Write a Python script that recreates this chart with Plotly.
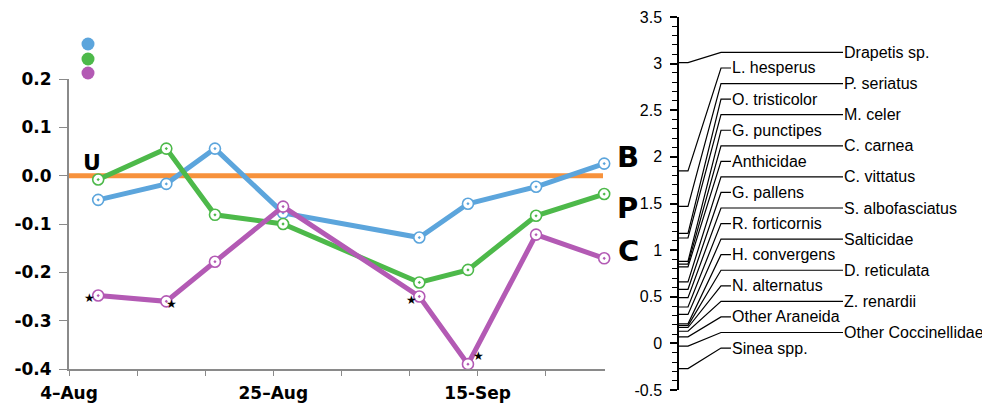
import plotly.graph_objects as go

# ---------------- data ----------------
dates = ["2023-08-07", "2023-08-14", "2023-08-19", "2023-08-26",
         "2023-09-09", "2023-09-14", "2023-09-21", "2023-09-28"]
blue_vals = [-0.050, -0.017, 0.056, -0.077, -0.128, -0.058, -0.023, 0.025]
green_vals = [-0.008, 0.056, -0.081, -0.100, -0.221, -0.195, -0.083, -0.038]
purple_vals = [-0.248, -0.260, -0.178, -0.064, -0.250, -0.390, -0.122, -0.171]
purple_signif = [True, True, False, False, True, True, False, False]

x_tickvals = ["2023-08-04", "2023-08-11", "2023-08-18", "2023-08-25",
              "2023-09-01", "2023-09-08", "2023-09-15", "2023-09-22"]
x_ticktext = ["4\u2013Aug", "", "", "25\u2013Aug", "", "", "15-Sep", ""]
y_tickvals = [0.2, 0.1, 0.0, -0.1, -0.2, -0.3, -0.4]
y_ticktext = ["0.2", "0.1", "0.0", "-0.1", "-0.2", "-0.3", "-0.4"]

species = ["Drapetis sp.", "L. hesperus", "P. seriatus", "O. tristicolor", "M. celer",
           "G. punctipes", "C. carnea", "Anthicidae", "C. vittatus", "G. pallens",
           "S. albofasciatus", "R. forticornis", "Salticidae", "H. convergens",
           "D. reticulata", "N. alternatus", "Z. renardii", "Other Araneida",
           "Other Coccinellidae", "Sinea spp."]
species_vals = [3.01, 1.85, 1.47, 1.18, 1.13, 0.88, 0.85, 0.82, 0.66, 0.58,
                0.49, 0.39, 0.31, 0.21, 0.19, 0.17, 0.13, 0.07, -0.03, -0.27]
y2_tickvals = [3.5, 3, 2.5, 2, 1.5, 1, 0.5, 0, -0.5]
y2_ticktext = ["3.5", "3", "2.5", "2", "1.5", "1", "0.5", "0", "-0.5"]

# ---------------- styling ----------------
OFF = 8  # page body margin
W, H = 990 - OFF, 404 - OFF
ML, MR, MT, MB = 69 - OFF, 0, 17 - OFF, 14
PW, PH = W - ML - MR, H - MT - MB


def px_x(p):
    return (p - OFF - ML) / PW


def px_y(p):
    return (H - MB - (p - OFF)) / PH


BLUE, GREEN, PURPLE, ORANGE = "#5ca5dc", "#4db94a", "#b35ab4", "#f7923c"
AX_GREY = "#8a8a8a"
BOLD_FONT = "DejaVu Sans"
SANS = "Liberation Sans, Arial, sans-serif"

fig = go.Figure()

for vals, col in [(blue_vals, BLUE), (green_vals, GREEN), (purple_vals, PURPLE)]:
    fig.add_trace(go.Scatter(
        x=dates, y=vals, mode="lines+markers", xaxis="x", yaxis="y",
        line=dict(color=col, width=5),
        marker=dict(symbol="circle-dot", size=11, color="white",
                    line=dict(color=col, width=1.6)),
        cliponaxis=False, showlegend=False, hoverinfo="skip"))

# zero reference line (U)
fig.add_shape(type="line", xref="paper", yref="y", x0=px_x(69), x1=px_x(603), y0=0, y1=0,
              line=dict(color=ORANGE, width=5), layer="below")

# significance stars on purple series
star_offsets = [(-9, -2), (5, -3), None, None, (-8, -3), (11, 8), None, None]
annotations = []
for d, v, s, off in zip(dates, purple_vals, purple_signif, star_offsets):
    if s:
        annotations.append(dict(x=d, y=v, xref="x", yref="y", text="\u2605",
                                showarrow=False, xshift=off[0], yshift=off[1],
                                font=dict(family=BOLD_FONT, size=12, color="black")))

# legend dots
for cy, col in [(44, BLUE), (59, GREEN), (73, PURPLE)]:
    r = 6.5
    fig.add_shape(type="circle", xref="paper", yref="paper",
                  x0=px_x(88 - r), x1=px_x(88 + r), y0=px_y(cy + r), y1=px_y(cy - r),
                  fillcolor=col, line=dict(width=0))

# big letters
annotations.append(dict(x=px_x(81), y=px_y(162), xref="paper", yref="paper", text="U",
                        showarrow=False, font=dict(family=BOLD_FONT, size=22, color="black",
                                                   weight="bold")))
for t, cx, cy in [("B", 628, 138), ("P", 627, 208), ("C", 628, 270)]:
    annotations.append(dict(x=px_x(cx), y=px_y(cy), xref="paper", yref="paper", text=t,
                            showarrow=False,
                            font=dict(family=BOLD_FONT, size=29, color="black",
                                      weight="bold")))

# ---------------- right panel (label plot) ----------------
n = len(species)
top_label, step = 3.12, (3.12 - (-0.05)) / (n - 1)
stub, diag_end, short_end, long_end = 9, 42, 52, 164
lx, ly = [], []
for i, (name, v) in enumerate(zip(species, species_vals)):
    yl = top_label - i * step
    end = long_end if i % 2 == 0 else short_end
    lx += [0, stub, diag_end, end, None]
    ly += [v, v, yl, yl, None]
    annotations.append(dict(x=end, y=yl, xref="x2", yref="y2", text=name,
                            showarrow=False, xanchor="left", yanchor="middle",
                            xshift=-1, font=dict(family=SANS, size=16, color="black")))
fig.add_trace(go.Scatter(x=lx, y=ly, mode="lines", xaxis="x2", yaxis="y2",
                         line=dict(color="black", width=1.2), showlegend=False,
                         hoverinfo="skip", cliponaxis=False))

fig.update_layout(
    width=W, height=H,
    margin=dict(l=ML, r=MR, t=MT, b=MB, pad=0),
    paper_bgcolor="white", plot_bgcolor="white",
    showlegend=False, hovermode=False,
    annotations=annotations,
    xaxis=dict(domain=[0, px_x(605)], anchor="y", type="date",
               range=["2023-08-04", "2023-09-28 02:00"],
               tickvals=x_tickvals, ticktext=x_ticktext,
               ticks="outside", ticklen=5, tickwidth=1, tickcolor=AX_GREY,
               showline=True, linecolor=AX_GREY, linewidth=2,
               showgrid=False, zeroline=False, ticklabelstandoff=3,
               tickfont=dict(family=BOLD_FONT, size=17, color="black", weight="bold")),
    yaxis=dict(domain=[px_y(369), px_y(79)], anchor="x",
               range=[-0.4, 0.2], tickvals=y_tickvals, ticktext=y_ticktext,
               ticks="outside", ticklen=8, tickwidth=1, tickcolor=AX_GREY,
               showline=True, linecolor=AX_GREY, linewidth=2,
               showgrid=False, zeroline=False, ticklabelstandoff=4,
               tickfont=dict(family=BOLD_FONT, size=17, color="black", weight="bold")),
    xaxis2=dict(domain=[px_x(679), 1], anchor="y2", range=[0, PW * (1 - px_x(679))],
                visible=False),
    yaxis2=dict(domain=[0, 1], anchor="x2", range=[-0.5, 3.5],
                tickvals=y2_tickvals, ticktext=y2_ticktext,
                ticks="outside", ticklen=7, tickwidth=1.5, tickcolor="black",
                minor=dict(dtick=0.1, ticks="outside", ticklen=5, tickcolor="black",
                           tickwidth=1),
                showline=True, linecolor="black", linewidth=1.5,
                showgrid=False, zeroline=False, ticklabelstandoff=5,
                tickfont=dict(family=SANS, size=16, color="black")),
)

fig.write_html("out.html")
